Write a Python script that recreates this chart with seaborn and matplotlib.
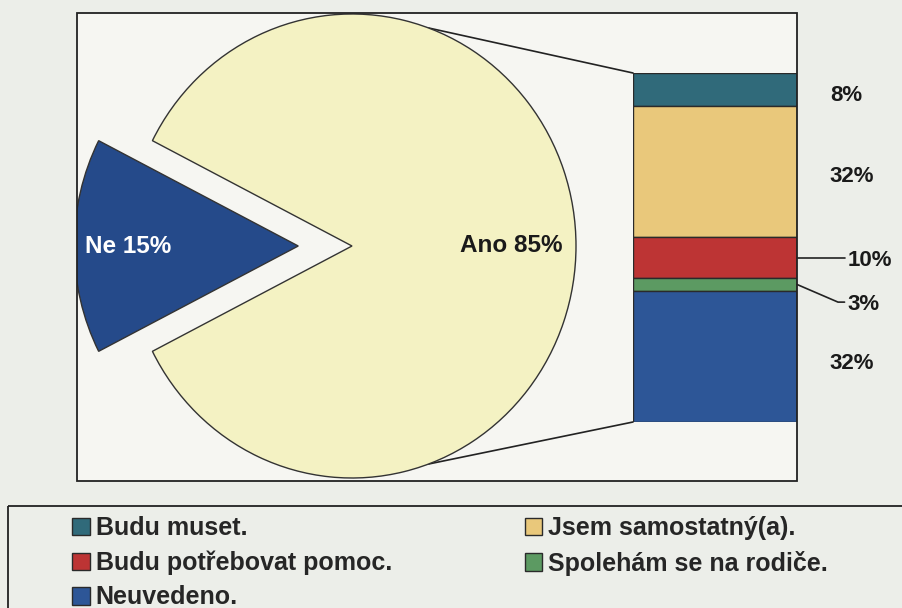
import numpy as np
import matplotlib
matplotlib.use("Agg")
import matplotlib.pyplot as plt
import seaborn as sns

# pie: Ano / Ne
pie_labels = ["Ano", "Ne"]
pie_values = [85, 15]
pie_colors = ["#f4f2c3", "#254a8a"]

# bar of pie: breakdown of "Ano" (top to bottom)
seg_labels = ["Budu muset.", "Jsem samostatný(a).", "Budu potřebovat pomoc.",
              "Spolehám se na rodiče.", "Neuvedeno."]
seg_values = [8, 32, 10, 3, 32]
seg_colors = ["#306a7a", "#e9c87b", "#bd3434", "#5c9a62", "#2d5697"]
legend_order = [0, 2, 4, 1, 3]

sns.set_theme(style="white")
plt.rcParams["font.family"] = ["Liberation Sans", "DejaVu Sans"]
plt.rcParams["font.weight"] = "bold"

W, H = 902, 608
fig = plt.figure(figsize=(W / 100, H / 100), dpi=100, facecolor="#eceee9")


def box(x0, y0, x1, y1):
    # pixel box (top-left origin) -> figure fraction rect
    return [x0 / W, 1 - y1 / H, (x1 - x0) / W, (y1 - y0) / H]


# page layer in pixel coordinates
page = fig.add_axes([0, 0, 1, 1])
page.set_xlim(0, W)
page.set_ylim(H, 0)
page.axis("off")
frame = plt.Rectangle((77, 13), 720, 468, facecolor="#f6f6f2",
                      edgecolor="none")
page.add_patch(frame)
page.add_patch(plt.Rectangle((8, 506), 920, 140, facecolor="none",
                             edgecolor="#222222", lw=1.3, clip_on=False))
# frame outline drawn above the pie
fig.patches.append(plt.Rectangle((77, 13), 720, 468, facecolor="none",
                                 edgecolor="#222222", lw=1.3,
                                 transform=page.transData, zorder=5))

# pie (slightly taller than wide, like the scan)
cx, cy, rx, ry = 352, 246, 224, 232
k = 1.3
pax = fig.add_axes(box(cx - k * rx, cy - k * ry, cx + k * rx, cy + k * ry))
wedges, _ = pax.pie(pie_values, colors=pie_colors, startangle=207,
                    explode=[0, 0.24],
                    wedgeprops=dict(edgecolor="#333333", linewidth=1))
pax.set_aspect("auto")
pax.set_xlim(-k, k)
pax.set_ylim(-k, k)
for w in wedges:
    w.set_clip_on(True)
    w.set_clip_path(frame)
for w, lab, val, d, col in zip(wedges, pie_labels, pie_values,
                               [0.71, 0.76], ["#1a1a1a", "white"]):
    ang = np.deg2rad((w.theta1 + w.theta2) / 2)
    x0, y0 = w.center
    pax.text(x0 + d * np.cos(ang), y0 + d * np.sin(ang), f"{lab} {val}%",
             ha="center", va="center", fontsize=17.5, color=col,
             fontweight="bold")

# stacked bar
bax = fig.add_axes(box(633, 73, 797, 422))
bottom = 0
for lab, val, col in zip(seg_labels, seg_values, seg_colors):
    sns.barplot(x=["Ano"], y=[val], bottom=bottom, color=col, saturation=1,
                width=1, edgecolor="#2a2a2a", linewidth=1, errorbar=None,
                ax=bax)
    bottom += val
bax.set_ylim(sum(seg_values), 0)
bax.set_xlim(-0.5, 0.5)
bax.axis("off")

# value labels, two of them with leader lines
tr = bax.get_yaxis_transform()
with_leader = [False, False, True, True, False]
label_drop = [0.9, 0.5, 0.0, 4.3, 1.1]
cum = np.cumsum(seg_values) - np.array(seg_values) / 2
for v, c, lead, dy in zip(seg_values, cum, with_leader, label_drop):
    ty = c + dy
    if lead:
        bax.plot([1.0, 1.25, 1.29], [c, ty, ty], color="#222222", lw=1.2,
                 transform=tr, clip_on=False)
        tx = 1.31
    else:
        tx = 1.20
    bax.text(tx, ty + 0.6, f"{v}%", transform=tr, ha="left", va="center",
             fontsize=16, fontweight="bold", color="#1a1a1a")

# connector lines from pie to bar
for sgn, by in [(1, 73), (-1, 422)]:
    a = np.deg2rad(70)
    page.plot([cx + rx * np.cos(a), 633], [cy - sgn * ry * np.sin(a), by],
              color="#222222", lw=1.2)

# legend
patches = [c.patches[0] for c in bax.containers]
fig.legend([patches[i] for i in legend_order],
           [seg_labels[i] for i in legend_order],
           ncol=2, loc="upper left", bbox_to_anchor=(72 / W, 1 - 516 / H),
           frameon=False, prop={"weight": "bold", "size": 18},
           handlelength=0.7, handleheight=0.7, handletextpad=0.25,
           columnspacing=5.3, labelspacing=0.42, borderaxespad=0,
           borderpad=0)

fig.savefig("out.png", dpi=100, facecolor=fig.get_facecolor())
